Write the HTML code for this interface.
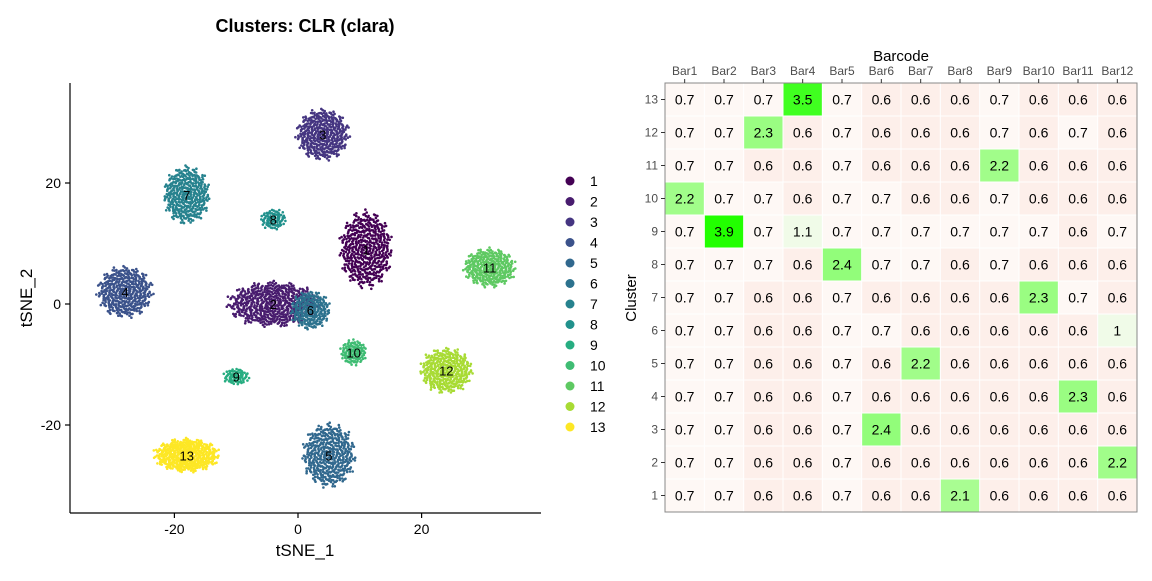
<!DOCTYPE html>
<html><head><meta charset="utf-8"><style>
body{margin:0;background:#fff;font-family:"Liberation Sans",Arial,sans-serif}
svg text{font-family:"Liberation Sans",Arial,sans-serif}
</style></head><body>
<svg id="c" width="1152" height="576" viewBox="0 0 1152 576" xmlns="http://www.w3.org/2000/svg">
<rect width="1152" height="576" fill="#fff"/>
<text x="305" y="32" font-size="18" font-weight="bold" text-anchor="middle">Clusters: CLR (clara)</text>
<g id="scatter"></g>
<g id="heat"></g>
</svg>
<script>
// ---- scatter data ----
const clusterIds=["1","2","3","4","5","6","7","8","9","10","11","12","13"];
const clusterCx=[11,-4,4,-28,5,2,-18,-4,-10,9,31,24,-18];
const clusterCy=[9,0,28,2,-25,-1,18,14,-12,-8,6,-11,-25];
const clusterRx=[4,7,4,4.2,4,3,3.5,2,2,2,4,4,5];
const clusterRy=[6,3.5,4,4,5,3,4.5,1.6,1.3,2,3,3.5,2.6];
const clusterN=[500,600,420,420,450,250,400,80,70,120,350,380,500];
const xTicks=[-20,0,20];
const yTicks=[-20,0,20];
const colors=["#440154","#481c6e","#453581","#3b528b","#31688e","#2c728e","#26828e","#21918c","#27ad81","#3fbc73","#5ec962","#a8db34","#fde725"];
const NS="http://www.w3.org/2000/svg";
function mk(tag,attrs,parent){const e=document.createElementNS(NS,tag);for(const k in attrs)e.setAttribute(k,attrs[k]);parent.appendChild(e);return e;}
const sx=v=>298+v*6.18, sy=v=>304-v*6.05;
const sc=document.getElementById('scatter');
const pts=mk('g',{},sc);


const ga=2.39996;
clusterIds.forEach((id,i)=>{
  const g=mk('g',{fill:colors[i]},pts);
  
  
  const n=clusterN[i];
  for(let k=0;k<n;k++){
    const r=Math.sqrt((k+0.5)/n)*(1+0.12*Math.sin(k*1.7));
    const a=k*ga;
    mk('circle',{cx:sx(clusterCx[i]+clusterRx[i]*r*Math.cos(a)).toFixed(1),cy:sy(clusterCy[i]+clusterRy[i]*r*Math.sin(a)).toFixed(1),r:1.3},g);
  }
});
clusterIds.forEach((id,i)=>{
  const t=mk('text',{x:sx(clusterCx[i]),y:sy(clusterCy[i])+5,'font-size':13,'text-anchor':'middle'},sc);
  t.textContent=id;
  
  
});
const ax=mk('g',{stroke:'#000','stroke-width':1.2},sc);


mk('line',{x1:70,y1:83,x2:70,y2:513},ax);
mk('line',{x1:70,y1:513,x2:541,y2:513},ax);
xTicks.forEach(v=>{mk('line',{x1:sx(v),x2:sx(v),y1:513,y2:518},ax);
  const t=mk('text',{x:sx(v),y:534,'font-size':14,'text-anchor':'middle',fill:'#000',stroke:'none'},sc);t.textContent=v;
  });
yTicks.forEach(v=>{mk('line',{x1:65,x2:70,y1:sy(v),y2:sy(v)},ax);
  const t=mk('text',{x:61,y:sy(v)+5,'font-size':14,'text-anchor':'end',fill:'#000',stroke:'none'},sc);t.textContent=v;
  });
let t=mk('text',{x:305,y:556,'font-size':17,'text-anchor':'middle'},sc);t.textContent='tSNE_1';

t=mk('text',{x:0,y:0,'font-size':17,'text-anchor':'middle',transform:'translate(32,298) rotate(-90)'},sc);t.textContent='tSNE_2';

const lg=mk('g',{},sc);


clusterIds.forEach((id,i)=>{
  const y=181+i*20.5;
  const c=mk('circle',{cx:570,cy:y,r:4.5,fill:colors[i]},lg);
  
  const tt=mk('text',{x:590,y:y+5,'font-size':14},lg);tt.textContent=id;
  
});

// ---- heatmap data ----
const barcodes=["Bar1","Bar2","Bar3","Bar4","Bar5","Bar6","Bar7","Bar8","Bar9","Bar10","Bar11","Bar12"];
const rowClusters=["13","12","11","10","9","8","7","6","5","4","3","2","1"];
const r13=[0.7,0.7,0.7,3.5,0.7,0.6,0.6,0.6,0.7,0.6,0.6,0.6];
const r12=[0.7,0.7,2.3,0.6,0.7,0.6,0.6,0.6,0.7,0.6,0.7,0.6];
const r11=[0.7,0.7,0.6,0.6,0.7,0.6,0.6,0.6,2.2,0.6,0.6,0.6];
const r10=[2.2,0.7,0.7,0.6,0.7,0.7,0.6,0.6,0.7,0.6,0.6,0.6];
const r9=[0.7,3.9,0.7,1.1,0.7,0.7,0.7,0.7,0.7,0.7,0.6,0.7];
const r8=[0.7,0.7,0.7,0.6,2.4,0.7,0.7,0.6,0.7,0.6,0.6,0.6];
const r7=[0.7,0.7,0.6,0.6,0.7,0.6,0.6,0.6,0.6,2.3,0.7,0.6];
const r6=[0.7,0.7,0.6,0.6,0.7,0.7,0.6,0.6,0.6,0.6,0.6,1];
const r5=[0.7,0.7,0.6,0.6,0.7,0.6,2.2,0.6,0.6,0.6,0.6,0.6];
const r4=[0.7,0.7,0.6,0.6,0.7,0.6,0.6,0.6,0.6,0.6,2.3,0.6];
const r3=[0.7,0.7,0.6,0.6,0.7,2.4,0.6,0.6,0.6,0.6,0.6,0.6];
const r2=[0.7,0.7,0.6,0.6,0.7,0.6,0.6,0.6,0.6,0.6,0.6,2.2];
const r1=[0.7,0.7,0.6,0.6,0.7,0.6,0.6,2.1,0.6,0.6,0.6,0.6];
const heatRows=[r13,r12,r11,r10,r9,r8,r7,r6,r5,r4,r3,r2,r1];
function fillFor(v){
  if(v<=0.6) return '#fdefea';
  if(v<=0.75) return '#fef8f5';
  if(v<1.5){return '#f0fbe8';}
  const f=Math.min(1,Math.max(0,(v-2)/1.9));
  const r=Math.round(176+(34-176)*f), g=Math.round(253+(255-253)*f), b=Math.round(154+(0-154)*f);
  return `rgb(${r},${g},${b})`;
}
const hx0=665,hy0=83,cw=(1137-665)/12,ch=(512-83)/13;
const hm=document.getElementById('heat');
mk('rect',{x:hx0,y:hy0,width:1137-hx0,height:512-hy0,fill:'#fff'},hm);
heatRows.forEach((row,ri)=>{
  row.forEach((v,ci)=>{
    const x=hx0+ci*cw,y=hy0+ri*ch;
    const r=mk('rect',{x:x+0.5,y:y+0.5,width:cw-1,height:ch-1,fill:fillFor(v)},hm);
    
    const tt=mk('text',{x:x+cw/2,y:y+ch/2+5,'font-size':14,'text-anchor':'middle'},hm);tt.textContent=v;
    
  });
});
mk('rect',{x:hx0,y:hy0,width:1137-hx0,height:512-hy0,fill:'none',stroke:'#888','stroke-width':1},hm);
barcodes.forEach((b,ci)=>{
  const x=hx0+(ci+0.5)*cw;
  mk('line',{x1:x,x2:x,y1:79,y2:83,stroke:'#333'},hm);
  const tt=mk('text',{x:x,y:75,'font-size':12,'text-anchor':'middle',fill:'#4d4d4d'},hm);tt.textContent=b;
  
});
rowClusters.forEach((c,ri)=>{
  const y=hy0+(ri+0.5)*ch;
  mk('line',{x1:661,x2:665,y1:y,y2:y,stroke:'#333'},hm);
  const tt=mk('text',{x:658,y:y+4,'font-size':12,'text-anchor':'end',fill:'#4d4d4d'},hm);tt.textContent=c;
  
});
t=mk('text',{x:901,y:61,'font-size':15,'text-anchor':'middle'},hm);t.textContent='Barcode';

t=mk('text',{x:0,y:0,'font-size':15,'text-anchor':'middle',transform:'translate(636,298) rotate(-90)'},hm);t.textContent='Cluster';

</script>
</body></html>
